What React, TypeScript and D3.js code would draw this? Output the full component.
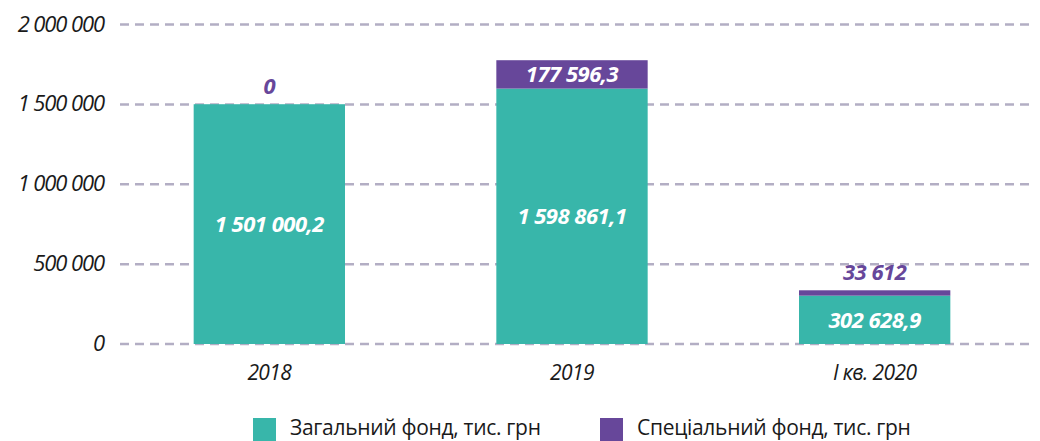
import React from "react";
import * as d3 from "d3";

const categories = ["2018", "2019", "I кв. 2020"];
const generalFund = [1501000.2, 1598861.1, 302628.9];
const specialFund = [0, 177596.3, 33612];
const generalLabels = ["1 501 000,2", "1 598 861,1", "302 628,9"];
const specialLabels = ["0", "177 596,3", "33 612"];
const yTicks = [0, 500000, 1000000, 1500000, 2000000];
const yTickLabels = ["0", "500 000", "1 000 000", "1 500 000", "2 000 000"];
const legendNames = ["Загальний фонд, тис. грн", "Спеціальний фонд, тис. грн"];

const TEAL = "#38b6aa";
const PURPLE = "#67479a";
const GRID = "#b3aec4";
const FONT = "'Open Sans', 'Noto Sans', sans-serif";

export default function App() {
  const W = 1040, H = 441;
  const x = d3.scaleBand<string>().domain(categories).range([118, 1026]).paddingInner(0.5).paddingOuter(0.25);
  const y = d3.scaleLinear().domain([0, 2000000]).range([344, 24.5]);
  const bw = x.bandwidth();

  return (
    <svg width={W} height={H} style={{ display: "block", position: "absolute", left: 0, top: 0 }}>
      {yTicks.map((t, i) => (
        <g key={t}>
          <line x1={120} x2={1030} y1={y(t)} y2={y(t)} stroke={GRID} strokeWidth={2.5} strokeDasharray="9 6" />
          <text x={104} y={y(t) + 7} textAnchor="end" fontFamily={FONT} fontStyle="italic" fontSize={22} fill="#1a1a1a" letterSpacing={-1.1}>
            {yTickLabels[i]}
          </text>
        </g>
      ))}
      {categories.map((c, i) => {
        const x0 = x(c)!;
        const cx = x0 + bw / 2;
        const gTop = y(generalFund[i]);
        const sTop = y(generalFund[i] + specialFund[i]);
        const sH = gTop - sTop;
        const inside = sH > 22;
        return (
          <g key={c}>
            <rect x={x0} y={gTop} width={bw} height={y(0) - gTop} fill={TEAL} />
            {specialFund[i] > 0 && <rect x={x0} y={sTop} width={bw} height={sH} fill={PURPLE} />}
            <text x={cx} y={(gTop + y(0)) / 2 + 8} textAnchor="middle" fontFamily={FONT} fontStyle="italic" fontWeight={700} fontSize={22} fill="#fff" letterSpacing={-0.5}>
              {generalLabels[i]}
            </text>
            <text x={cx} y={inside ? (sTop + gTop) / 2 + 8 : sTop - 10} textAnchor="middle" fontFamily={FONT} fontStyle="italic" fontWeight={700} fontSize={22} fill={inside ? "#fff" : PURPLE} letterSpacing={-0.5}>
              {specialLabels[i]}
            </text>
            <text x={cx} y={380} textAnchor="middle" fontFamily={FONT} fontStyle="italic" fontSize={21} fill="#1a1a1a" letterSpacing={-0.6}>
              {c}
            </text>
          </g>
        );
      })}
      {legendNames.map((n, i) => {
        const lx = i === 0 ? 253 : 600;
        return (
          <g key={n}>
            <rect x={lx} y={418} width={23} height={23} fill={i === 0 ? TEAL : PURPLE} />
            <text x={lx + 37} y={435} fontFamily={FONT} fontSize={21} fill="#1a1a1a" letterSpacing={-0.3}>
              {n}
            </text>
          </g>
        );
      })}
    </svg>
  );
}
